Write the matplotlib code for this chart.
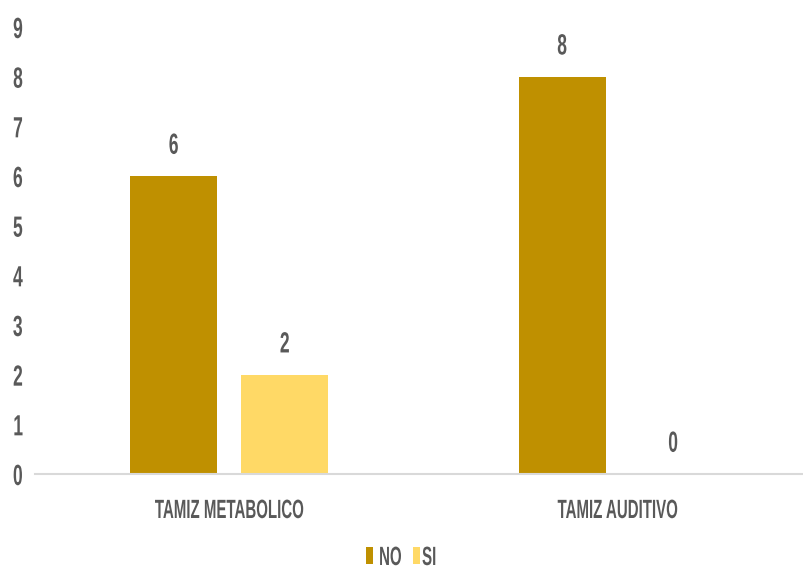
import matplotlib
matplotlib.use("Agg")
import matplotlib.pyplot as plt
from matplotlib.patheffects import AbstractPathEffect
from matplotlib.transforms import Affine2D
import numpy as np

# datos
categorias = ["TAMIZ METABOLICO", "TAMIZ AUDITIVO"]
valores_no = [6, 8]
valores_si = [2, 0]
series = ["NO", "SI"]

color_no = "#BF9000"
color_si = "#FFD966"
gris = "#595959"


# letra angosta (tipo Arial Narrow): se comprime el texto en horizontal
class Estrecho(AbstractPathEffect):
    def __init__(self, sx=0.6):
        super().__init__()
        self.sx = sx

    def draw_path(self, renderer, gc, tpath, affine, rgbFace=None):
        ext = tpath.get_extents()
        cx = (ext.x0 + ext.x1) / 2
        t = Affine2D().translate(-cx, 0).scale(self.sx, 1).translate(cx, 0) + affine
        renderer.draw_path(gc, tpath, t, rgbFace)


angosto = [Estrecho(0.6)]
angosto2 = [Estrecho(0.57)]

plt.rcParams['font.family'] = ['Liberation Sans', 'DejaVu Sans']
plt.rcParams['font.weight'] = 'bold'

fig = plt.figure(figsize=(8.04, 5.69), dpi=100)
ax = fig.add_axes([35/804, 95/569, 769/804, 447/569])

x = np.arange(len(categorias))
ancho = 0.224
desp = 0.143

b1 = ax.bar(x - desp, valores_no, ancho, color=color_no, label=series[0])
b2 = ax.bar(x + desp, valores_si, ancho, color=color_si, label=series[1])

for barras in (b1, b2):
    for b in barras:
        h = b.get_height()
        t = ax.annotate(f"{h:g}", (b.get_x() + b.get_width()/2, h),
                        xytext=(0, 16), textcoords="offset points",
                        ha="center", va="baseline", fontsize=21, color=gris, fontweight="bold")
        t.set_path_effects(angosto)

ax.set_xlim(-0.5, 1.48)
ax.set_ylim(0, 9)
ax.set_yticks(range(0, 10))
ax.set_xticks(x)
ax.set_xticklabels(categorias)

for s in ["top", "right", "left"]:
    ax.spines[s].set_visible(False)
ax.spines["bottom"].set_color("#D9D9D9")
ax.spines["bottom"].set_linewidth(1.5)

ax.tick_params(axis="both", length=0, labelcolor=gris)
ax.tick_params(axis="y", pad=6.5, labelsize=21)
ax.tick_params(axis="x", pad=18, labelsize=19)
for lab in ax.get_yticklabels():
    lab.set_path_effects(angosto)
for lab in ax.get_xticklabels():
    lab.set_path_effects(angosto2)

leg = ax.legend(loc="center", bbox_to_anchor=(404/804, 11/569), bbox_transform=fig.transFigure,
                ncol=2, frameon=False, fontsize=19, handlelength=0.26, handleheight=0.6,
                handletextpad=-0.1, columnspacing=0.1, labelcolor=gris)
for t in leg.get_texts():
    t.set_path_effects(angosto2)

fig.savefig("out.png", dpi=100)
